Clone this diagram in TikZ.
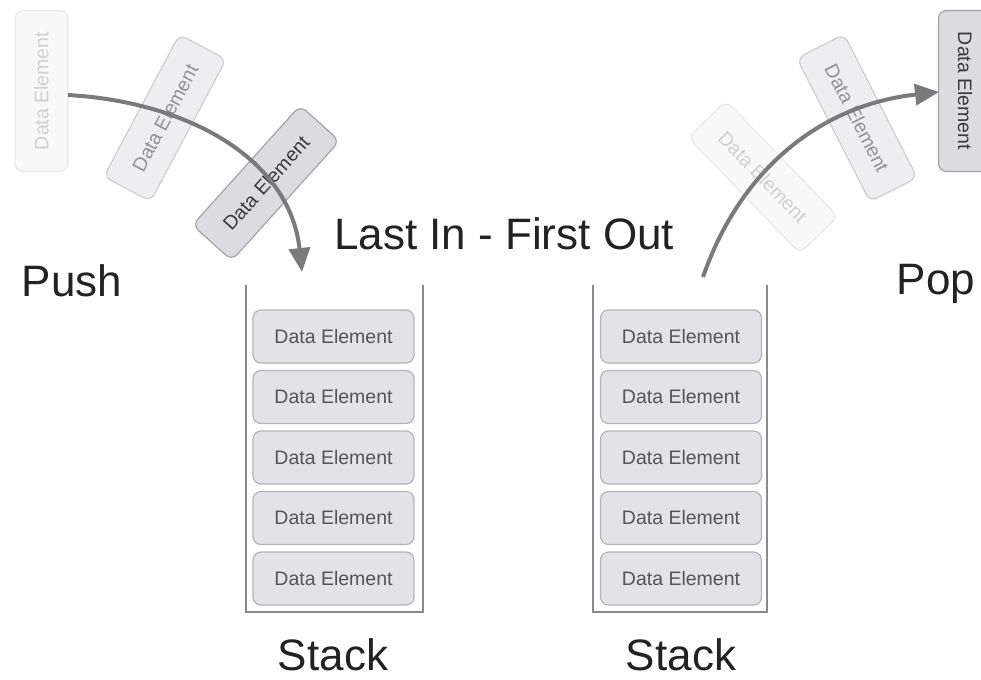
\documentclass[tikz,border=0pt]{standalone}
\usepackage{fontspec}
\setmainfont{Liberation Sans}
\usetikzlibrary{arrows.meta}
\definecolor{boxfill}{HTML}{E3E3E7}
\definecolor{boxborder}{HTML}{B4B4B8}
\definecolor{boxtext}{HTML}{555558}
\definecolor{movefill}{HTML}{DCDCE0}
\definecolor{moveborder}{HTML}{A4A4A8}
\definecolor{movetext}{HTML}{3A3A3D}
\definecolor{wallcol}{HTML}{8A8A8A}
\definecolor{arrowcol}{HTML}{7A7A7A}
\definecolor{bigtext}{HTML}{222222}
\begin{document}
\begin{tikzpicture}[x=1pt,y=-1pt,
  elem/.style={draw=boxborder, fill=boxfill, rounded corners=8pt,
    minimum width=161pt, minimum height=53pt, line width=1.2pt,
    text=boxtext, font=\fontsize{19.5}{22}\selectfont, inner sep=0pt},
  movingelem/.style={draw=moveborder, fill=movefill, rounded corners=8pt,
    minimum width=161pt, minimum height=53pt, line width=1.2pt,
    text=movetext, font=\fontsize{19.5}{22}\selectfont, inner sep=0pt},
  faint/.style={opacity=0.25},
  halffaint/.style={opacity=0.6},
  wall/.style={draw=wallcol, line width=1.8pt},
  bigfont/.style={font=\fontsize{44}{50}\selectfont, text=bigtext, inner sep=0pt},
  movearrow/.style={draw=arrowcol, line width=4pt, -{Triangle[length=24pt,width=21pt]}}
]
\useasboundingbox (0,0) rectangle (981,679);

% left stack
\coordinate (l1) at (246,285);
\coordinate (l2) at (246,612);
\coordinate (l3) at (423,612);
\coordinate (l4) at (423,285);
\draw[wall] (l1) -- (l2) -- (l3) -- (l4);
\foreach \i/\y in {1/336.5,2/397,3/457.5,4/518,5/578.5}
  \node[elem] (a\i) at (333.5,\y) {Data Element};

% right stack
\coordinate (r1) at (593,285);
\coordinate (r2) at (593,612);
\coordinate (r3) at (767,612);
\coordinate (r4) at (767,285);
\draw[wall] (r1) -- (r2) -- (r3) -- (r4);
\foreach \i/\y in {1/336.5,2/397,3/457.5,4/518,5/578.5}
  \node[elem] (b\i) at (681,\y) {Data Element};

% labels
\node[bigfont] (push) at (72,281) {Push};
\node[bigfont] (pop) at (936,284) {Pop};
\node[bigfont] (lifo) at (504,234) {Last In - First Out};
\node[bigfont] (s1) at (333,655) {Stack};
\node[bigfont] (s2) at (681,655) {Stack};

% push motion
\node[elem, faint, rotate=90] (p1) at (41.5,91) {Data Element};
\node[elem, halffaint, rotate=62] (p2) at (165,118) {Data Element};
\node[movingelem, rotate=48] (p3) at (266,183) {Data Element};

% pop motion
\node[elem, faint, rotate=-46] (q1) at (763,177) {Data Element};
\node[elem, halffaint, rotate=-63] (q2) at (857,118) {Data Element};
\node[movingelem, rotate=-90] (q3) at (965,91) {Data Element};

% arrows
\coordinate (pushstart) at (68,95);
\coordinate (pushend) at (302,272);
\draw[movearrow] (pushstart) .. controls (190,102) and (290,160) .. (pushend);
\coordinate (popstart) at (703,277);
\coordinate (popend) at (939,92);
\draw[movearrow] (popstart) .. controls (740,170) and (820,105) .. (popend);
\end{tikzpicture}
\end{document}
